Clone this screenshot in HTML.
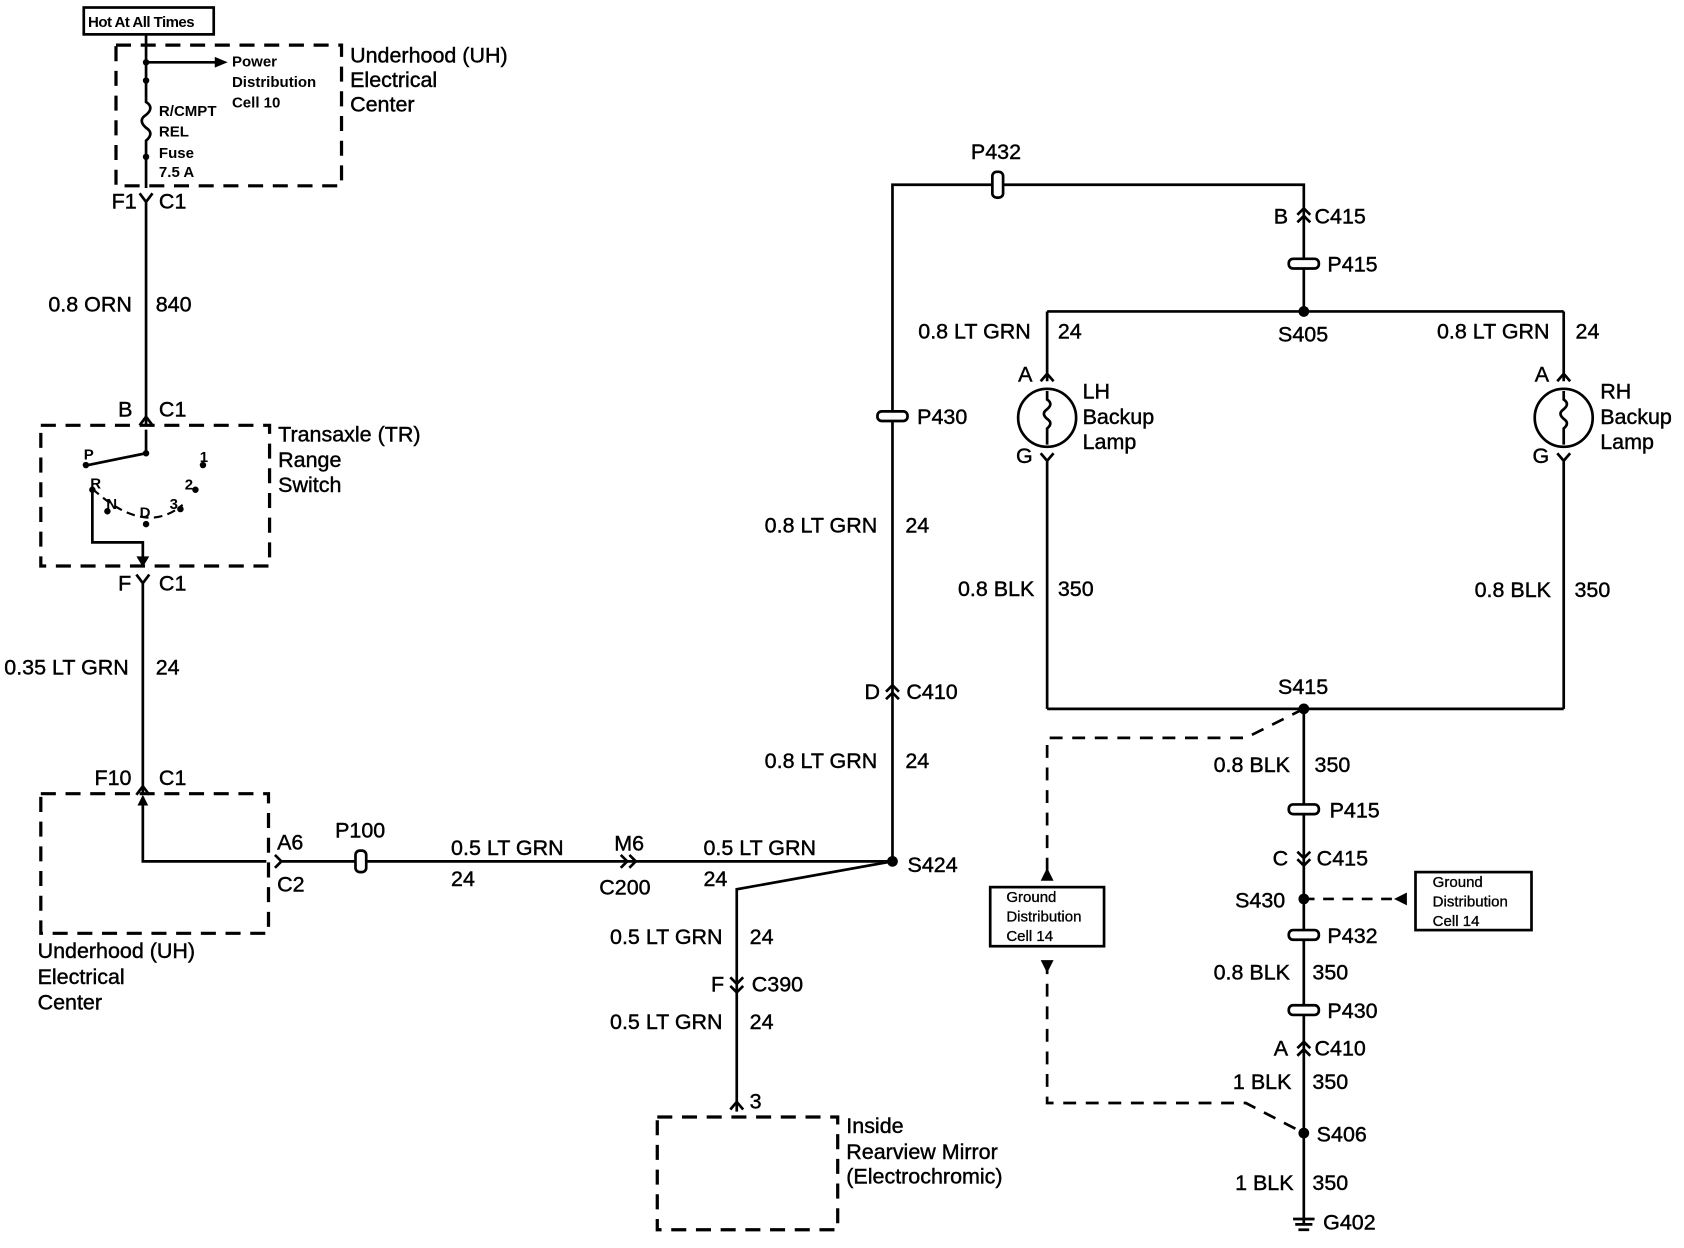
<!DOCTYPE html>
<html><head><meta charset="utf-8"><style>
html,body{margin:0;padding:0;background:#fff;}
svg{display:block;}
text{font-family:"Liberation Sans",sans-serif;fill:#000;font-size:20px;stroke:#000;stroke-width:0.4;}
.s{font-size:14px;font-weight:bold;stroke-width:0;}
.n{font-size:14px;stroke-width:0.3;}
.d{fill:none;stroke:#000;stroke-width:3;stroke-dasharray:14,9;}
.w{fill:none;stroke:#000;stroke-width:2.5;}
</style></head><body>
<svg width="1684" height="1248" viewBox="0 0 1568 1162" preserveAspectRatio="none" xmlns="http://www.w3.org/2000/svg">
<rect x="78" y="7" width="121" height="25" fill="none" stroke="#000" stroke-width="2.5"/>
<text x="82" y="25" class="s" style="font-size:14px;letter-spacing:-0.5px">Hot At All Times</text>
<rect x="108" y="42" width="210" height="131" class="d"/>
<path class="w" d="M136 32 V95 q8 5 0 12 q-8 5 0 12 q8 5 0 12 V175"/>
<circle cx="136" cy="58" r="3"/><circle cx="136" cy="75" r="3"/><circle cx="136" cy="146" r="3"/>
<path class="w" d="M136 58 H205"/><polygon points="212,58 200,53 200,63"/>
<text x="216" y="62" class="s">Power</text><text x="216" y="81" class="s">Distribution</text><text x="216" y="100" class="s">Cell 10</text>
<text x="148" y="108" class="s">R/CMPT</text><text x="148" y="127" class="s">REL</text><text x="148" y="147" class="s">Fuse</text><text x="148" y="165" class="s">7.5 A</text>
<text x="326" y="58">Underhood (UH)</text><text x="326" y="81">Electrical</text><text x="326" y="104">Center</text>
<text x="104" y="194">F1</text><text x="148" y="194">C1</text>
<path class="w" d="M130 180 L136 188 L142 180 M136 188 V395"/>
<text x="45" y="290">0.8 ORN</text><text x="145" y="290">840</text>
<text x="110" y="388">B</text><text x="148" y="388">C1</text>
<path class="w" d="M130 396 L136 388"/><path class="w" d="M142 396 L136 388"/>
<rect x="38" y="396" width="213" height="131" class="d"/>
<text x="259" y="411">Transaxle (TR)</text><text x="259" y="435">Range</text><text x="259" y="458">Switch</text>
<path class="w" d="M136 400 V422 L82 433"/><circle cx="136" cy="422" r="3"/><circle cx="80" cy="433" r="3"/>
<path d="M86 455 Q135 500 170 470" fill="none" stroke="#000" stroke-width="2" stroke-dasharray="8,5"/>
<circle cx="86" cy="456" r="3"/><circle cx="100" cy="476" r="3"/><circle cx="136" cy="488" r="3"/><circle cx="168" cy="474" r="3"/><circle cx="182" cy="456" r="3"/><circle cx="189" cy="433" r="3"/>
<text x="78" y="428" class="s">P</text><text x="84" y="455" class="s">R</text><text x="99" y="474" class="s">N</text><text x="130" y="482" class="s">D</text><text x="158" y="474" class="s">3</text><text x="172" y="456" class="s">2</text><text x="186" y="430" class="s">1</text>
<path class="w" d="M86 456 V505 H133 V525"/><polygon points="133,528 127,518 139,518"/>
<text x="110" y="550">F</text><text x="148" y="550">C1</text>
<path class="w" d="M127 535 L133 543 L139 535 M133 543 V738"/>
<text x="4" y="628">0.35 LT GRN</text><text x="145" y="628">24</text>
<text x="88" y="731">F10</text><text x="148" y="731">C1</text>
<path class="w" d="M127 740 L133 732 L139 740"/>
<rect x="38" y="739" width="212" height="130" class="d"/>
<path class="w" d="M133 742 V802 H248"/><polygon points="133,740 128,750 138,750"/>
<path class="w" d="M256 796 L262 802 L256 808"/>
<text x="258" y="791">A6</text><text x="258" y="830">C2</text>
<text x="35" y="892">Underhood (UH)</text><text x="35" y="916">Electrical</text><text x="35" y="940">Center</text>
<path class="w" d="M262 802 H831"/>
<rect x="331" y="792" width="10" height="20" rx="4" fill="#fff" stroke="#000" stroke-width="2.5"/>
<text x="312" y="780">P100</text>
<text x="420" y="796">0.5 LT GRN</text><text x="420" y="825">24</text>
<path class="w" d="M578 796 L584 802 L578 808 M586 796 L592 802 L586 808"/>
<text x="572" y="792">M6</text><text x="558" y="833">C200</text>
<text x="655" y="796">0.5 LT GRN</text><text x="655" y="825">24</text>
<circle cx="831" cy="802" r="5"/><text x="845" y="812">S424</text>
<path class="w" d="M831 802 L686 828 V1035"/>
<text x="568" y="879">0.5 LT GRN</text><text x="698" y="879">24</text>
<path class="w" d="M680 910 L686 916 L692 910 M680 918 L686 924 L692 918"/>
<text x="662" y="923">F</text><text x="700" y="923">C390</text>
<text x="568" y="958">0.5 LT GRN</text><text x="698" y="958">24</text>
<path class="w" d="M680 1033 L686 1026 L692 1033"/><text x="698" y="1032">3</text>
<rect x="612" y="1040" width="168" height="105" class="d"/>
<text x="788" y="1055">Inside</text><text x="788" y="1079">Rearview Mirror</text><text x="788" y="1102">(Electrochromic)</text>
<path class="w" d="M831 802 V172 H1214 V290"/>
<text x="712" y="715">0.8 LT GRN</text><text x="843" y="715">24</text>
<path class="w" d="M825 644 L831 638 L837 644 M825 651 L831 645 L837 651"/>
<text x="805" y="651">D</text><text x="844" y="651">C410</text>
<text x="712" y="496">0.8 LT GRN</text><text x="843" y="496">24</text>
<rect x="817" y="383" width="28" height="9" rx="4" fill="#fff" stroke="#000" stroke-width="2.5"/><text x="854" y="395">P430</text>
<rect x="924" y="160" width="10" height="24" rx="4" fill="#fff" stroke="#000" stroke-width="2.5"/><text x="904" y="148">P432</text>
<path class="w" d="M1208 200 L1214 194 L1220 200 M1208 207 L1214 201 L1220 207"/>
<text x="1186" y="208">B</text><text x="1224" y="208">C415</text>
<rect x="1200" y="241" width="28" height="9" rx="4" fill="#fff" stroke="#000" stroke-width="2.5"/><text x="1236" y="253">P415</text>
<circle cx="1214" cy="290" r="5"/><text x="1190" y="318">S405</text>
<path class="w" d="M975 290 H1456"/>
<text x="855" y="315">0.8 LT GRN</text><text x="985" y="315">24</text>
<text x="1338" y="315">0.8 LT GRN</text><text x="1467" y="315">24</text>
<g>
<path class="w" d="M975 290 V355 M969 355 L975 348 L981 355 M969 422 L975 429 L981 422 M975 429 V660"/>
<circle cx="975" cy="389" r="27" fill="#fff" stroke="#000" stroke-width="2.5"/>
<path class="w" d="M975 364 V372 q6 4 0 9 q-6 4 0 9 q6 4 0 9 V414"/>
<text x="948" y="355">A</text><text x="946" y="431">G</text>
<text x="1008" y="371">LH</text><text x="1008" y="395">Backup</text><text x="1008" y="418">Lamp</text>
</g>
<g>
<path class="w" d="M1456 290 V355 M1450 355 L1456 348 L1462 355 M1450 422 L1456 429 L1462 422 M1456 429 V660"/>
<circle cx="1456" cy="389" r="27" fill="#fff" stroke="#000" stroke-width="2.5"/>
<path class="w" d="M1456 364 V372 q6 4 0 9 q-6 4 0 9 q6 4 0 9 V414"/>
<text x="1429" y="355">A</text><text x="1427" y="431">G</text>
<text x="1490" y="371">RH</text><text x="1490" y="395">Backup</text><text x="1490" y="418">Lamp</text>
</g>
<text x="892" y="555">0.8 BLK</text><text x="985" y="555">350</text>
<text x="1373" y="556">0.8 BLK</text><text x="1466" y="556">350</text>
<path class="w" d="M975 660 H1456"/>
<circle cx="1214" cy="660" r="5"/><text x="1190" y="646">S415</text>
<path class="w" d="M1214 660 V1140"/>
<text x="1130" y="719">0.8 BLK</text><text x="1224" y="719">350</text>
<rect x="1200" y="749" width="28" height="9" rx="4" fill="#fff" stroke="#000" stroke-width="2.5"/><text x="1238" y="761">P415</text>
<path class="w" d="M1208 793 L1214 799 L1220 793 M1208 800 L1214 806 L1220 800"/>
<text x="1185" y="806">C</text><text x="1226" y="806">C415</text>
<circle cx="1214" cy="837" r="5"/><text x="1150" y="845">S430</text>
<rect x="1200" y="866" width="28" height="9" rx="4" fill="#fff" stroke="#000" stroke-width="2.5"/><text x="1236" y="878">P432</text>
<text x="1130" y="912">0.8 BLK</text><text x="1222" y="912">350</text>
<rect x="1200" y="936" width="28" height="9" rx="4" fill="#fff" stroke="#000" stroke-width="2.5"/><text x="1236" y="948">P430</text>
<path class="w" d="M1208 976 L1214 970 L1220 976 M1208 983 L1214 977 L1220 983"/>
<text x="1186" y="983">A</text><text x="1224" y="983">C410</text>
<text x="1148" y="1014">1 BLK</text><text x="1222" y="1014">350</text>
<circle cx="1214" cy="1055" r="5"/><text x="1226" y="1063">S406</text>
<text x="1150" y="1108">1 BLK</text><text x="1222" y="1108">350</text>
<path class="w" d="M1204 1135 H1224 M1206 1140 H1222 M1209 1145 H1219"/>
<text x="1232" y="1145">G402</text>
<path d="M1214 660 L1160 687 H975 V815 M975 895 V1027 H1160 L1214 1055" fill="none" stroke="#000" stroke-width="2.5" stroke-dasharray="12,9"/>
<polygon points="975,808 969,820 981,820"/><polygon points="975,906 969,894 981,894"/>
<rect x="922" y="826" width="106" height="55" fill="none" stroke="#000" stroke-width="2.5"/>
<text x="937" y="840" class="n">Ground</text><text x="937" y="858" class="n">Distribution</text><text x="937" y="876" class="n">Cell 14</text>
<path d="M1214 837 H1300" fill="none" stroke="#000" stroke-width="2.5" stroke-dasharray="10,8"/>
<polygon points="1298,837 1310,831 1310,843"/>
<rect x="1318" y="812" width="108" height="54" fill="none" stroke="#000" stroke-width="2.5"/>
<text x="1334" y="826" class="n">Ground</text><text x="1334" y="844" class="n">Distribution</text><text x="1334" y="862" class="n">Cell 14</text>
</svg>
</body></html>
